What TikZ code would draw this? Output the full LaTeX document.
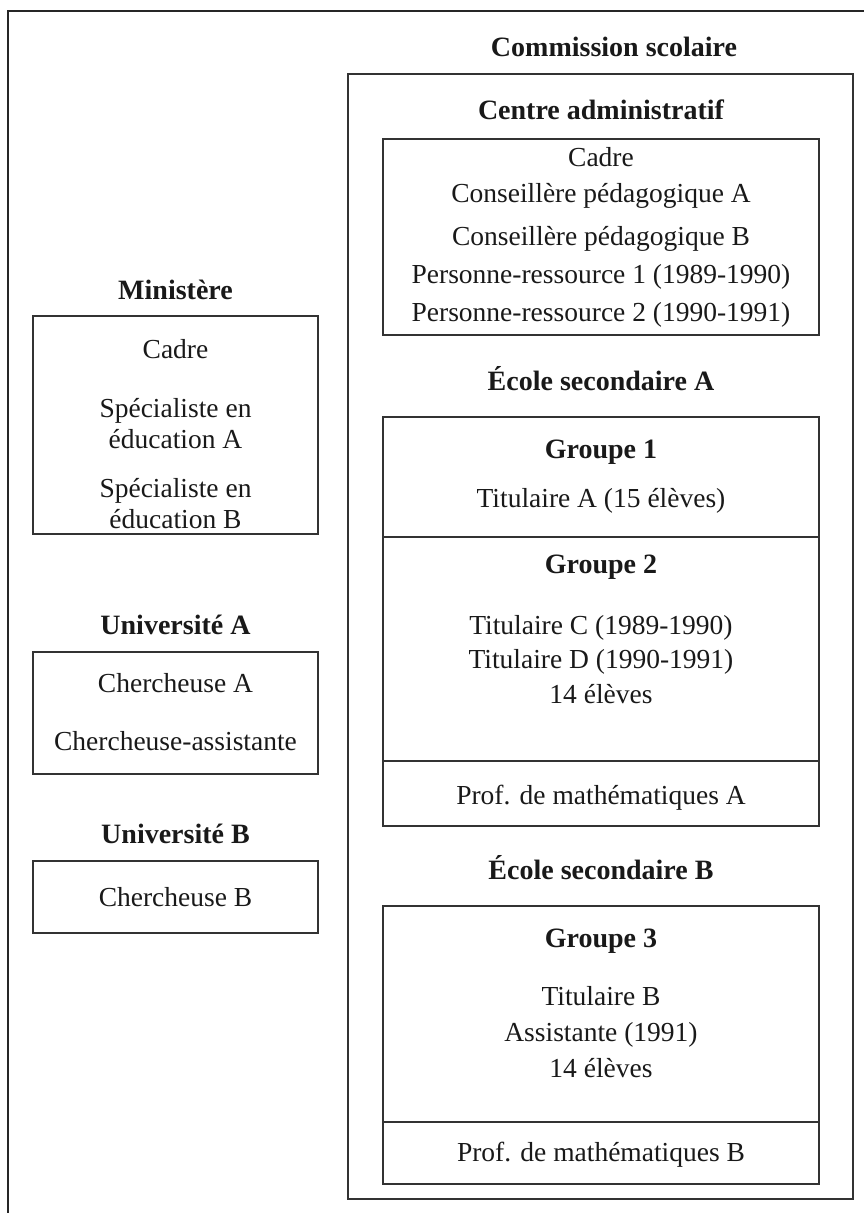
\documentclass[tikz,border=0pt]{standalone}
\usepackage{fontspec}
\setmainfont{Liberation Serif}
\begin{document}
\begin{tikzpicture}[x=1pt,y=-1pt,
  frameline/.style={draw=black!85, line width=2.6pt},
  boxline/.style={draw=black!80, line width=1.4pt},
  box/.style={boxline, inner sep=0pt},
  txt/.style={font=\fontsize{27.5}{32}\selectfont, text=black!90, inner sep=0pt, anchor=base},
  ttl/.style={txt, font=\fontsize{28}{32}\selectfont\bfseries}
]
\useasboundingbox (0,0) rectangle (863,1213);
% outer frame (cropped)
\coordinate (fbl) at (8,1220);
\coordinate (ftl) at (8,11);
\coordinate (ftr) at (870,11);
\draw[frameline] (fbl) -- (ftl) -- (ftr);

% Commission scolaire
\node[ttl] (tcs) at (614,56) {Commission scolaire};
\node[box, minimum width=505pt, minimum height=1125pt] (cs) at (600.5,636.5) {};

% Centre administratif
\node[ttl] (tca) at (601,119) {Centre administratif};
\node[box, minimum width=436pt, minimum height=196pt] (ca) at (601,237) {};
\node[txt] (ca1) at (601,166) {Cadre};
\node[txt] (ca2) at (601,202) {Conseillère pédagogique A};
\node[txt] (ca3) at (601,245) {Conseillère pédagogique B};
\node[txt] (ca4) at (601,283) {Personne-ressource 1 (1989-1990)};
\node[txt] (ca5) at (601,321) {Personne-ressource 2 (1990-1991)};

% Ecole secondaire A
\node[ttl] (tesa) at (601,390) {École secondaire A};
\node[box, minimum width=436pt, minimum height=409pt] (esa) at (601,621.5) {};
\node[ttl] (g1) at (601,458) {Groupe 1};
\node[txt] (g1a) at (601,507) {Titulaire A (15 élèves)};
\coordinate (s1) at (0,537);
\draw[boxline] (esa.west |- s1) -- (esa.east |- s1);
\node[ttl] (g2) at (601,573) {Groupe 2};
\node[txt] (g2a) at (601,634) {Titulaire C (1989-1990)};
\node[txt] (g2b) at (601,668) {Titulaire D (1990-1991)};
\node[txt] (g2c) at (601,703) {14 élèves};
\coordinate (s2) at (0,761);
\draw[boxline] (esa.west |- s2) -- (esa.east |- s2);
\node[txt] (pa) at (601,804) {Prof. de mathématiques A};

% Ecole secondaire B
\node[ttl] (tesb) at (601,879) {École secondaire B};
\node[box, minimum width=436pt, minimum height=278pt] (esb) at (601,1045) {};
\node[ttl] (g3) at (601,947) {Groupe 3};
\node[txt] (g3a) at (601,1005) {Titulaire B};
\node[txt] (g3b) at (601,1041) {Assistante (1991)};
\node[txt] (g3c) at (601,1077) {14 élèves};
\coordinate (s3) at (0,1122);
\draw[boxline] (esb.west |- s3) -- (esb.east |- s3);
\node[txt] (pb) at (601,1161) {Prof. de mathématiques B};

% Ministere
\node[ttl] (tmin) at (175.5,299) {Ministère};
\node[box, minimum width=285pt, minimum height=218pt] (min) at (175.5,425) {};
\node[txt] (m1) at (175.5,358) {Cadre};
\node[txt] (m2) at (175.5,417) {Spécialiste en};
\node[txt] (m3) at (175.5,448) {éducation A};
\node[txt] (m4) at (175.5,497) {Spécialiste en};
\node[txt] (m5) at (175.5,528) {éducation B};

% Universite A
\node[ttl] (tua) at (175.5,634) {Université A};
\node[box, minimum width=285pt, minimum height=122pt] (ua) at (175.5,713) {};
\node[txt] (ua1) at (175.5,692) {Chercheuse A};
\node[txt] (ua2) at (175.5,750) {Chercheuse-assistante};

% Universite B
\node[ttl] (tub) at (175.5,843) {Université B};
\node[box, minimum width=285pt, minimum height=72pt] (ub) at (175.5,897) {};
\node[txt] (ub1) at (175.5,906) {Chercheuse B};
\end{tikzpicture}
\end{document}
